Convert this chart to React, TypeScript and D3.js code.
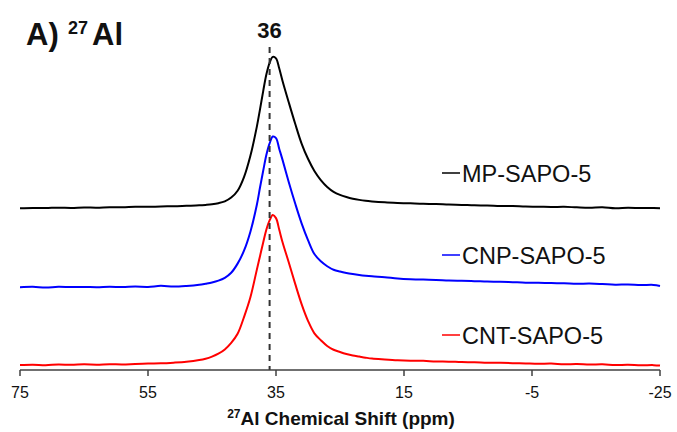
import React from "react";
import * as d3 from "d3";

// chemical shift grid (ppm), shared by all three spectra
const shifts = [
  75, 73, 71, 69, 67, 65, 63, 61, 59, 57, 55, 53, 51, 49, 47,
  46, 45, 44, 43, 42, 41, 40, 39, 38,
  37.5, 37, 36.5, 36, 35.5, 35, 34.5,
  34, 33, 32, 31, 30, 29, 28, 27, 26, 25, 24, 23, 22, 21, 20,
  18, 16, 14, 12, 10, 8, 6, 4, 2, 0, -2, -4, -6, -8, -10, -12, -14, -16, -18, -20, -22, -24,
  -25,
];

// normalised intensities (peak ~ 100)
const mpSapo5 = [
  0, 0.2, 0.1, 0.4, 0.2, 0.5, 0.4, 0.7, 0.6, 1.0, 0.9, 1.2, 1.3, 1.6, 1.9,
  2.2, 2.6, 3.3, 4.5, 7.0, 11.5, 20.5, 34.5, 53.5,
  65, 77, 88, 95.5, 99.5, 98.5, 92,
  84, 69.5, 55.5, 42.5, 32.5, 24.5, 18.5, 14, 10.8, 8.8, 7.4, 6.3, 5.5, 4.9, 4.5,
  3.9, 3.5, 3.2, 2.9, 2.8, 2.4, 2.2, 1.9, 1.8, 1.5, 1.4, 1.1, 1.0, 0.8, 0.9, 0.6, 0.4, 0.7, 0.0, 0.3, 0.1, 0.1,
  0,
];

const cnpSapo5 = [
  0, 0.3, -0.2, 0.3, 0.1, 0.2, 0.0, 0.3, 0.1, 0.4, 0.2, 0.9, 0.4, 0.8, 1.6,
  2.3, 3.1, 4.3, 6.2, 9.5, 15.5, 24, 36.5, 54,
  65.5, 76.5, 87, 94.5, 99, 98, 91,
  84, 69, 55, 42, 31, 21.8, 17, 13.8, 11.5, 10.3, 9.4, 8.7, 8.1, 7.6, 7.2,
  6.6, 5.8, 5.3, 5.0, 4.8, 4.4, 4.2, 4.0, 3.7, 3.6, 3.3, 3.0, 2.9, 2.7, 2.6, 2.3, 2.4, 2.1, 1.7, 1.8, 1.4, 1.5,
  0.8,
];

const cntSapo5 = [
  0, 0.2, -0.1, 0.3, 0.1, 0.4, 0.2, 0.5, 0.3, 0.7, 1.0, 1.1, 1.5, 2.1, 3.2,
  4.1, 5.5, 7.4, 10.2, 14.5, 20.5, 31.5, 44.5, 62.5,
  71.5, 80.5, 89, 95, 98.5, 96.5, 89,
  81, 67.3, 53.3, 40, 29, 20.8, 16.3, 12.5, 10, 8.5, 7.2, 6.2, 5.5, 4.8, 4.2,
  3.6, 3.1, 2.8, 2.7, 2.3, 2.2, 1.9, 1.8, 1.5, 1.4, 1.2, 1.0, 0.8, 0.9, 0.5, 0.6, 0.3, 0.4, 0.0, 0.1, -0.2, -0.1,
  -0.4,
];

const sampleNames = ["MP-SAPO-5", "CNP-SAPO-5", "CNT-SAPO-5"];
const stackOffsets = [103, 51.1, 0];
const xTicks = [75, 55, 35, 15, -5, -25];
const markerShift = 36;

const W = 677;
const H = 432;
const colors = ["#000000", "#0000ff", "#ff0000"];
const labelY = [173, 255, 335];

export default function App() {
  const x = d3.scaleLinear().domain([75, -25]).range([20, 660]);
  const y = d3.scaleLinear().domain([-3.3, 226.7]).range([370, 20]);
  const spectra = [mpSapo5, cnpSapo5, cntSapo5];

  const font = "'Liberation Sans', Arial, sans-serif";

  return (
    <svg
      width={W}
      height={H}
      style={{ position: "absolute", left: 0, top: 0, background: "#fff" }}
      fontFamily={font}
    >
      {spectra.map((vals, i) => {
        const line = d3
          .line<number>()
          .x((_, j) => x(shifts[j]))
          .y((v) => y(v + stackOffsets[i]))
          .curve(d3.curveCatmullRom.alpha(0.5));
        return (
          <path
            key={sampleNames[i]}
            d={line(vals) || ""}
            fill="none"
            stroke={colors[i]}
            strokeWidth={2}
            strokeLinejoin="round"
          />
        );
      })}

      {/* peak marker */}
      <line
        x1={x(markerShift)}
        x2={x(markerShift)}
        y1={47}
        y2={370}
        stroke="#333"
        strokeWidth={2}
        strokeDasharray="6,5"
      />
      <text
        x={x(markerShift)}
        y={38}
        textAnchor="middle"
        fontSize={22}
        fontWeight="bold"
        fill="#111"
      >
        {markerShift}
      </text>

      {/* legend labels */}
      {sampleNames.map((name, i) => (
        <g key={name}>
          <line x1={442} x2={460} y1={labelY[i]} y2={labelY[i]} stroke={colors[i]} strokeWidth={1.5} />
          <text x={462} y={labelY[i] + 8.5} fontSize={23.5} fill="#111">
            {name}
          </text>
        </g>
      ))}

      {/* x axis */}
      <line x1={x(75)} x2={x(-25)} y1={370} y2={370} stroke="#404040" strokeWidth={1.5} />
      {xTicks.map((t) => (
        <g key={t} transform={`translate(${x(t)},370)`}>
          <line y1={0} y2={6} stroke="#404040" strokeWidth={1.5} />
          <text y={28} textAnchor="middle" fontSize={16} fill="#111">
            {t}
          </text>
        </g>
      ))}
      <text x={341} y={425} textAnchor="middle" fontSize={19} fontWeight="bold" fill="#111">
        <tspan fontSize={12} dy={-7}>27</tspan>
        <tspan dy={7}>Al Chemical Shift (ppm)</tspan>
      </text>

      {/* panel title */}
      <text x={26} y={45} fontSize={31} fontWeight="bold" fill="#111">
        A)
      </text>
      <text x={68} y={34} fontSize={18} fontWeight="bold" fill="#111">
        27
      </text>
      <text x={92} y={45} fontSize={31} fontWeight="bold" fill="#111">
        Al
      </text>
    </svg>
  );
}
